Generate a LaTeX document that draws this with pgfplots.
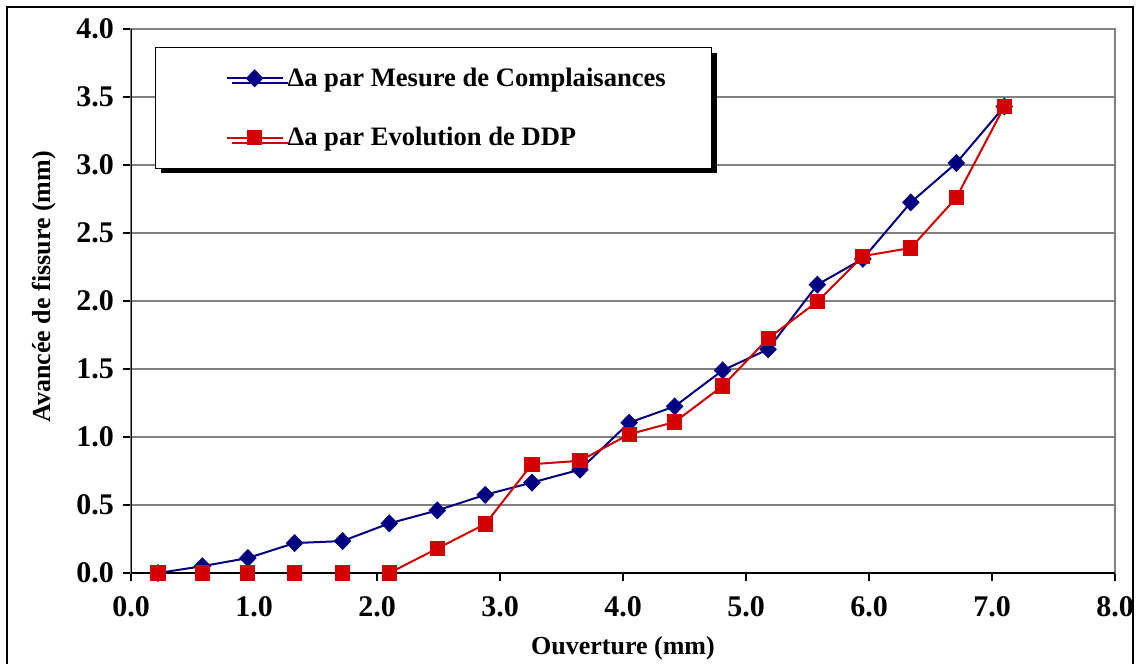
\documentclass[border=0pt]{standalone}
\usepackage{pgfplots}
\pgfplotsset{compat=1.18}
\usepackage{fontspec}
\setmainfont{Liberation Serif}
\usetikzlibrary{shadows}

\definecolor{xlblue}{RGB}{0,0,128}
\definecolor{xlred}{RGB}{210,0,0}
\definecolor{xlgrid}{RGB}{128,128,128}

\pgfplotstableread{
x     comp   ddp
0.22  0.00   0.00
0.58  0.05   0.00
0.95  0.11   0.00
1.33  0.22   0.00
1.72  0.235  0.00
2.10  0.365  0.00
2.49  0.46   0.18
2.88  0.575  0.36
3.26  0.665  0.80
3.65  0.76   0.825
4.05  1.105  1.02
4.42  1.225  1.11
4.81  1.49   1.375
5.18  1.645  1.725
5.58  2.12   1.995
5.95  2.31   2.33
6.34  2.725  2.39
6.71  3.015  2.76
7.10  3.43   3.43
}\data

\begin{document}
\begin{tikzpicture}
% 1 px of the reference = 0.5pt
\useasboundingbox (0,0) rectangle (569pt,331.5pt);
\fill[white] (0,0) rectangle (569pt,331.5pt);
\draw[black, line width=0.8pt] (3.5pt,-5pt) -- (3.5pt,328pt) -- (566.5pt,328pt) -- (566.5pt,-5pt);

\begin{axis}[
    at={(65.5pt,45pt)}, anchor=south west,
    scale only axis,
    width=492pt, height=272pt,
    xmin=0, xmax=8, ymin=0, ymax=4,
    xtick={0,1,...,8},
    ytick={0,0.5,...,4},
    minor tick num=0,
    tick align=outside,
    major tick length=4pt,
    tick style={black, line width=0.6pt},
    xtick pos=bottom, ytick pos=left,
    ymajorgrids,
    grid style={xlgrid, line width=0.7pt},
    axis line style={xlgrid, line width=0.9pt},
    /pgf/number format/fixed,
    /pgf/number format/fixed zerofill,
    /pgf/number format/precision=1,
    /pgf/number format/assume math mode=true,
    tick label style={font=\fontsize{15}{17}\selectfont\bfseries},
    label style={font=\fontsize{13}{15}\selectfont\bfseries},
    xticklabel style={yshift=-4pt},
    yticklabel style={xshift=-1pt},
    xlabel={Ouverture (mm)},
    ylabel={Avancée de fissure (mm)},
    xlabel style={at={(axis description cs:0.5,-0.138)}, anchor=center},
    ylabel style={at={(axis description cs:-0.088,0.526)}, anchor=center},
    legend cell align=left,
    legend image code/.code={
        \path (-14pt,0pt);
        \draw[mark repeat=2, mark phase=2, #1] plot coordinates {(0pt,0pt) (14pt,0pt) (28pt,0pt)};
    },
    legend style={
        at={(rel axis cs:0.0244,0.967)}, anchor=north west,
        draw=black, line width=0.6pt, fill=white,
        inner xsep=21pt, inner ysep=8pt,
        row sep=15pt,
        font=\fontsize{13.3}{15}\selectfont\bfseries,
        drop shadow={shadow xshift=2.5pt, shadow yshift=-2.5pt, fill=black, opacity=1},
        /tikz/every even column/.append style={column sep=2pt},
    },
]
\addplot[xlblue, line width=1pt, mark=diamond*, mark size=3.8pt,
    mark options={xscale=1.3, fill=xlblue, draw=xlblue}] table[x=x, y=comp] {\data};
\addlegendentry{Δa par Mesure de Complaisances}
\addplot[xlred, line width=1pt, mark=square*, mark size=3.3pt,
    mark options={fill=xlred, draw=xlred}] table[x=x, y=ddp] {\data};
\addlegendentry{Δa par Evolution de DDP}
\draw[black, line width=0.9pt] (rel axis cs:0,1) -- (rel axis cs:0,0) -- (rel axis cs:1,0);
\end{axis}
\end{tikzpicture}
\end{document}
